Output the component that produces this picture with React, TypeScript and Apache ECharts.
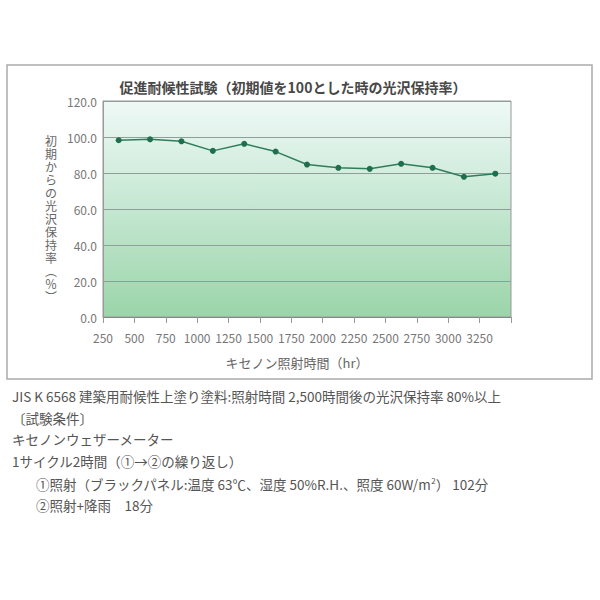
import React, { useRef, useEffect } from 'react'
import * as echarts from 'echarts'

const hours = [375, 625, 875, 1125, 1375, 1625, 1875, 2125, 2375, 2625, 2875, 3125, 3375]
const retention = [98.2, 98.7, 97.6, 92.3, 96.2, 91.9, 84.7, 82.9, 82.3, 85.1, 82.9, 77.9, 79.6]

const chartTitle = '促進耐候性試験（初期値を100とした時の光沢保持率）'
const yName = ['初', '期', 'か', 'ら', 'の', '光', '沢', '保', '持', '率', '︵', '％', '︶']
const xName = 'キセノン照射時間（hr）'

const notes = [
  'JIS K 6568 建築用耐候性上塗り塗料:照射時間 2,500時間後の光沢保持率 80%以上',
  '〔試験条件〕',
  'キセノンウェザーメーター',
  '1サイクル2時間（①→②の繰り返し）',
  '①照射（ブラックパネル:温度 63℃、湿度 50%R.H.、照度 60W/m{sup|2}） 102分',
  '②照射+降雨　18分'
]
const noteIndent = [0, 0, 0, 0, 1, 1]

const FONT = '"Noto Sans CJK JP", "Noto Sans", sans-serif'

const App: React.FC = () => {
  const chartRef = useRef<HTMLDivElement>(null)

  useEffect(() => {
    if (!chartRef.current) return
    const chart = echarts.init(chartRef.current, undefined, { renderer: 'svg' })

    const noteTexts = notes.map((t, i) => ({
      type: 'text',
      left: 12 + noteIndent[i] * 24,
      top: 389 + i * 21.8,
      style: {
        text: t,
        fill: '#555',
        font: `13.5px ${FONT}`,
        rich: {
          sup: { fontSize: 8, fill: '#555', padding: [0, 0, 7, 0], fontFamily: FONT }
        }
      }
    }))

    // vertical axis name, one glyph per element
    const yNameTexts = yName.map((ch, i) => ({
      type: 'text',
      x: 51,
      y: 140 + i * 13,
      style: {
        text: ch,
        font: `12px ${FONT}`,
        fill: '#666',
        align: 'center',
        verticalAlign: 'middle'
      }
    }))

    const option = {
      animation: false,
      backgroundColor: '#fff',
      textStyle: { fontFamily: FONT },
      title: {
        text: chartTitle,
        left: 288,
        top: 75,
        textAlign: 'center',
        textStyle: { fontSize: 14, fontWeight: 'bold', color: '#484848', fontFamily: FONT }
      },
      grid: {
        left: 103,
        right: 89,
        top: 101,
        bottom: 283,
        show: true,
        borderColor: '#999',
        borderWidth: 1,
        backgroundColor: new echarts.graphic.LinearGradient(0, 0, 0, 1, [
          { offset: 0, color: '#eff9f7' },
          { offset: 0.5, color: '#c4e7d1' },
          { offset: 1, color: '#9bd5a9' }
        ])
      },
      xAxis: {
        type: 'value',
        min: 250,
        max: 3500,
        interval: 250,
        name: xName,
        nameLocation: 'middle',
        nameGap: 39,
        nameTextStyle: { fontSize: 13, color: '#666', padding: [0, 20, 0, 0] },
        axisLine: { lineStyle: { color: '#888', width: 1 } },
        axisTick: { show: true, length: 6, lineStyle: { color: '#999' } },
        axisLabel: {
          color: '#777',
          fontSize: 12,
          margin: 14,
          formatter: (v: number) => (v === 3500 ? '' : String(v))
        },
        splitLine: { show: false }
      },
      yAxis: {
        type: 'value',
        min: 0,
        max: 120,
        interval: 20,
        axisLine: { show: true, lineStyle: { color: '#999' } },
        axisTick: { show: false },
        axisLabel: {
          color: '#777',
          fontSize: 12,
          margin: 6,
          formatter: (v: number) => v.toFixed(1)
        },
        splitLine: { lineStyle: { color: '#8f9f97', width: 1 } }
      },
      graphic: [
        {
          type: 'rect',
          shape: { x: 7, y: 65, width: 585, height: 314 },
          style: { fill: 'none', stroke: '#aaa', lineWidth: 1.5 },
          z: -1
        },
        ...yNameTexts,
        ...noteTexts
      ],
      series: [
        {
          type: 'line',
          data: hours.map((h, i) => [h, retention[i]]),
          symbol: 'circle',
          symbolSize: 6,
          lineStyle: { color: '#2f7d5a', width: 1.5 },
          itemStyle: { color: '#1f6e4d' }
        }
      ]
    }

    chart.setOption(option as any)
    return () => {
      chart.dispose()
    }
  }, [])

  return (
    <div
      ref={chartRef}
      style={{ position: 'fixed', left: 0, top: 0, width: 600, height: 600, background: '#fff' }}
    />
  )
}

export default App
